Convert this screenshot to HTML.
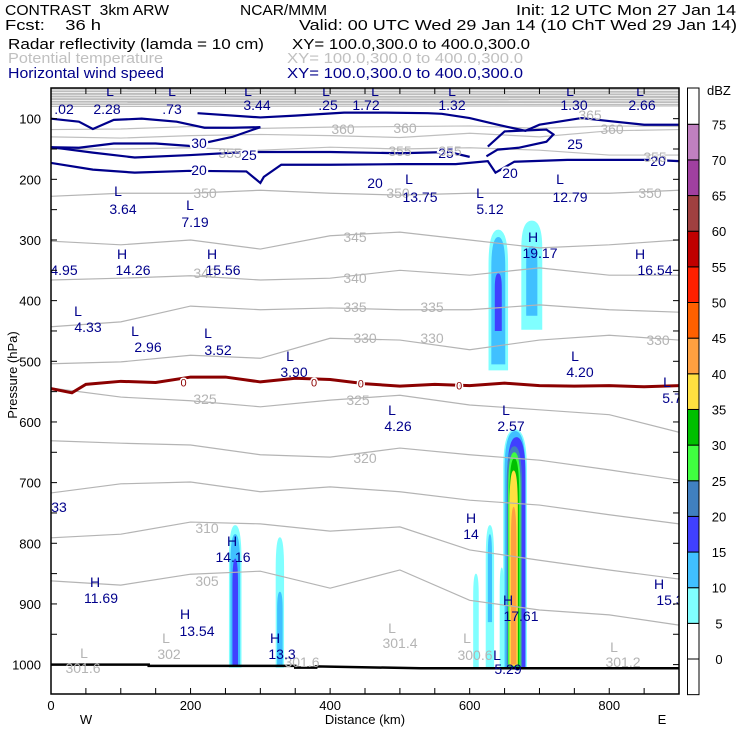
<!DOCTYPE html>
<html><head><meta charset="utf-8"><style>
html,body{margin:0;padding:0;background:#fff;}
svg{display:block;font-family:"Liberation Sans",sans-serif;}
#hdr text{white-space:pre;}
</style></head><body>
<svg id="chart" width="740" height="740" viewBox="0 0 740 740" xmlns="http://www.w3.org/2000/svg">
<defs><clipPath id="plotclip"><rect x="51" y="88" width="628" height="606"/></clipPath></defs>
<g id="hdr" font-size="14.5" xml:space="preserve">
<text x="5" y="15" textLength="164" lengthAdjust="spacingAndGlyphs">CONTRAST  3km ARW</text>
<text x="240" y="15" textLength="87" lengthAdjust="spacingAndGlyphs">NCAR/MMM</text>
<text x="516" y="15" textLength="220" lengthAdjust="spacingAndGlyphs">Init: 12 UTC Mon 27 Jan 14</text>
<text x="5" y="30" textLength="96" lengthAdjust="spacingAndGlyphs">Fcst:    36 h</text>
<text x="299" y="30" textLength="438" lengthAdjust="spacingAndGlyphs">Valid: 00 UTC Wed 29 Jan 14 (10 ChT Wed 29 Jan 14)</text>
<text x="8" y="49" textLength="256" lengthAdjust="spacingAndGlyphs">Radar reflectivity (lamda = 10 cm)</text>
<text x="292" y="49" textLength="238" lengthAdjust="spacingAndGlyphs">XY= 100.0,300.0 to 400.0,300.0</text>
<text x="8" y="63" fill="#c0c0c0" textLength="155" lengthAdjust="spacingAndGlyphs">Potential temperature</text>
<text x="287" y="63" fill="#c0c0c0" textLength="236" lengthAdjust="spacingAndGlyphs">XY= 100.0,300.0 to 400.0,300.0</text>
<text x="8" y="78" fill="#00008b" textLength="156" lengthAdjust="spacingAndGlyphs">Horizontal wind speed</text>
<text x="287" y="78" fill="#00008b" textLength="236" lengthAdjust="spacingAndGlyphs">XY= 100.0,300.0 to 400.0,300.0</text>
</g>
<g id="plot" clip-path="url(#plotclip)"></g>
<g id="axes"></g>
<g id="cbar"></g>
</svg>
<script>
// ---- data ----
const thetaLevels = [350,345,340,335,330,325,320,315,310,305];
const thetaDist = [0,100,200,300,400,500,600,700,800,900];
const thetaP = [
 [228,223,223,218,223,226,223,223,223,218],
 [302,308,300,315,293,287,300,313,308,300],
 [366,363,359,366,363,350,358,346,358,358],
 [443,435,409,415,412,415,415,407,415,419],
 [504,501,490,495,462,465,481,465,457,465],
 [544,559,565,575,564,556,572,580,588,617],
 [631,635,638,654,658,643,654,663,679,696],
 [717,702,699,715,707,715,729,737,753,768],
 [791,785,765,768,780,773,811,828,844,859],
 [862,869,851,846,874,844,894,910,918,935]
];
const freezeDist = [0,30,50,100,150,200,250,300,350,400,450,500,550,600,650,700,750,800,850,900];
const freezeP = [545,552,538,533,535,526,526,534,528,530,537,541,538,540,536,540,541,540,542,540];
const wind20Dist = [0,60,120,200,280,300,305,330,400,500,580,626,637,664,740,860,900];
const wind20P = [173,184,189,186,187,206,196,176,176,175,175,170,189,171,168,168,170];
const wind25Dist = [0,60,120,200,280,400,500,570,600];
const wind25P = [147,156,164,160,155,155,157,155,163];
const wind25bDist = [624,640,670,710,720,710,650,626];
const wind25bP = [162,151,148,138,126,118,121,146];
const wind30Dist = [0,40,60,90,130,180,220,260,300,260,200,150,90,40,0];
const wind30P = [100,105,117,102,100,105,115,115,114,130,145,141,141,148,147];
const wind30bDist = [210,300,350,420,480,540,560,600,640,680,700,760,800,850,900];
const wind30bP = [91,98,95,90,90,91,92,99,110,120,110,99,104,110,110];
const cellDist  = [665,665,667,664,664,664,663,663, 264,264,264, 328,328, 641,641,641, 689,689, 629,629, 609, 646];
const cellPTop  = [612,615,625,640,650,660,680,740, 770,785,825, 790,880, 283,295,355, 268,310, 770,785, 850, 840];
const cellPBot  = [1005,1005,1005,1005,1003,1003,1002,1000, 1005,1004,1002, 1005,1004, 515,505,450, 448,425, 1005,930, 1005, 1005];
const cellHalf  = [17,15,13,11,9,7,6,4, 9,7,4, 6,4, 14,10,5, 15,8, 6,3, 4, 3];
const cellLevel = [5,10,15,20,25,30,35,40, 5,10,15, 5,10, 5,10,15, 5,10, 5,10, 5, 5];
const cbarLevels = [-5,0,5,10,15,20,25,30,35,40,45,50,55,60,65,70,75];
const cbarColors = ["#ffffff","#ffffff","#80ffff","#40c0ff","#4040ff","#4080c0","#40ff40","#00c000","#ffe040","#ffa040","#ff6000","#ff2000","#c00000","#a04040","#a040a0","#c080c0","#ffffff"];
const cbarLabels = [0,5,10,15,20,25,30,35,40,45,50,55,60,65,70,75];
const xTickLabels = [0,200,400,600,800];
const yTickLabels = [100,200,300,400,500,600,700,800,900,1000];
const surfaceDist = [0,140,140,330,350,350,380,380,530,900];
const surfaceP = [1000,1000,1002,1002,1002,1005,1005,1003,1006,1006];
const navyLabels = [["L",110,96],["L",172,96],["L",248,96],["L",326,96],["L",375,96],["L",452,96],["L",570,96],["L",640,96],
[".02",64,114],["2.28",107,114],[".73",172,114],["3.44",257,110],[".25",328,110],["1.72",366,110],["1.32",452,110],["1.30",574,110],["2.66",642,110],
["L",118,196],["3.64",123,214],["L",190,210],["7.19",195,227],["L",409,184],["13.75",420,202],["L",480,198],["5.12",490,214],["L",560,184],["12.79",570,202],
["H",533,242],["19.17",540,258],["H",122,259],["14.26",133,275],["H",212,259],["15.56",223,275],["4.95",64,275],["H",640,259],["16.54",655,275],
["L",78,316],["4.33",88,332],["L",135,336],["2.96",148,352],["L",208,338],["3.52",218,355],["L",290,361],["3.90",294,377],["L",575,361],["4.20",580,377],
["L",667,387],["5.7",672,403],["L",392,415],["4.26",398,431],["L",506,415],["2.57",511,431],["33",59,512],["H",471,523],["14",471,539],
["H",232,546],["14.16",233,562],["H",95,587],["11.69",101,603],["H",659,589],["15.3",670,605],["H",185,619],["13.54",197,636],
["H",508,605],["17.61",521,621],["H",275,643],["13.3",282,659],["L",497,660],["5.29",508,674]];
const grayLabels = [["L",84,658],["301.6",83,673],["L",166,643],["302",169,659],["L",392,633],["301.4",400,648],["L",467,643],["300.6",475,660],["L",614,652],["301.2",623,667],["301.6",302,667],
["360",343,134],["360",405,133],["360",612,134],["365",590,120],["355",230,158],["355",400,156],["355",450,156],["355",655,162],["350",205,198],["350",398,198],["350",650,198],
["345",355,242],["340",355,283],["340",205,278],["335",355,312],["335",432,312],["330",365,343],["330",432,343],["330",658,345],["325",205,404],["325",358,405],["320",365,463],["310",207,533],["305",207,586]];

// ---- scales ----
const X = d => 51 + d * 0.6978;
const Y = p => 58 + p * 0.6066;
const NS = "http://www.w3.org/2000/svg";
function mk(tag, parent, attrs){const e=document.createElementNS(NS,tag);for(const k in attrs)e.setAttribute(k,attrs[k]);parent.appendChild(e);return e;}
const plot = document.getElementById('plot');
const axes = document.getElementById('axes');
const cbar = document.getElementById('cbar');
function colorOf(l){return cbarColors[cbarLevels.indexOf(l)];}

let bg = mk('rect', plot, {x:51,y:88,width:628,height:19,fill:'#bdbdbd'});


for(let i=0;i<7;i++){
  let ln = mk('path', plot, {d:`M51 ${90+i*2.6} L679 ${90.5+i*2.6}`, stroke:'#fff','stroke-width':0.7, fill:'none'});
  
  
}
const upperDist=[0,100,200,300,400,500,600,700,800,900];
const upperP=[[118,117,113,116,114,113,112,116,112,113],[130,132,128,126,128,131,124,130,120,118],[150,150,148,152,147,150,148,152,160,160]];
upperP.forEach(arr=>{
  let pth = mk('path', plot, {d:'M'+upperDist.map((d,i)=>X(d)+' '+Y(arr[i])).join(' L'), stroke:'#bfbfbf', fill:'none','stroke-width':1.2});
  
  
});

cellDist.forEach((d,i)=>{
  const xl=X(d-cellHalf[i]), xr=X(d+cellHalf[i]), xc=X(d);
  const yt=Y(cellPTop[i]), yb=Y(cellPBot[i]);
  const ym = yt + Math.min(0.25*(yb-yt), 40);
  const path = `M${xl} ${yb} L${xl} ${ym} Q${xl} ${yt} ${xc} ${yt} Q${xr} ${yt} ${xr} ${ym} L${xr} ${yb} Z`;
  let c = mk('path', plot, {d:path, fill:colorOf(cellLevel[i])});
  
  
});

thetaLevels.forEach((lv,j)=>{
  let pth = mk('path', plot, {d:'M'+thetaDist.map((d,i)=>X(d)+' '+Y(thetaP[j][i])).join(' L'), stroke:'#b4b4b4', fill:'none','stroke-width':1.2});
  
  
});

let fz = mk('path', plot, {d:'M'+freezeDist.map((d,i)=>X(d)+' '+Y(freezeP[i])).join(' L'), stroke:'#8b0000', fill:'none','stroke-width':3});


[[190,535],[377,535],[444,537],[585,540]].forEach(q=>{
  let t = mk('text', plot, {x:X(q[0]), y:Y(q[1])+4, fill:'#8b0000','font-size':11,'text-anchor':'middle',stroke:'#fff','stroke-width':3,'paint-order':'stroke'});
  t.textContent='0';
  
  
});

[[wind20Dist,wind20P,'wind-20'],[wind25Dist,wind25P,'wind-25'],[wind25bDist,wind25bP,'wind-25-loop'],[wind30Dist,wind30P,'wind-30'],[wind30bDist,wind30bP,'wind-30-upper']].forEach(w=>{
  let pth = mk('path', plot, {d:'M'+w[0].map((d,i)=>X(d)+' '+Y(w[1][i])).join(' L'), stroke:'#00008b', fill:'none','stroke-width':2.2});
  
  
});
[["20",199,170],["20",375,183],["20",510,173],["20",658,161],["25",249,155],["25",446,153],["25",575,144],["30",199,143]].forEach(q=>{
  let t = mk('text', plot, {x:q[1], y:q[2]+5, fill:'#00008b','font-size':14,'text-anchor':'middle',stroke:'#fff','stroke-width':4,'paint-order':'stroke'});
  t.textContent=q[0];
  
  
});

let sf = mk('path', plot, {d:'M'+surfaceDist.map((d,i)=>X(d)+' '+Y(surfaceP[i])).join(' L'), stroke:'#000', fill:'none','stroke-width':2.5});



grayLabels.forEach(q=>{
  let t = mk('text', plot, {x:q[1], y:q[2], fill:'#b4b4b4','font-size':14,'text-anchor':'middle'});
  t.textContent=q[0];
  
  
});
navyLabels.forEach(q=>{
  let t = mk('text', plot, {x:q[1], y:q[2], fill:'#00008b','font-size':14,'text-anchor':'middle'});
  t.textContent=q[0];
  
  
});

let fr = mk('rect', axes, {x:51,y:88,width:628,height:606,fill:'none',stroke:'#000','stroke-width':1.5});


for(let d=0; d<=900; d+=50){
  let tk = mk('line', axes, {x1:X(d),x2:X(d),y1:694,y2:688,stroke:'#000'});
  
  
  let tk2 = mk('line', axes, {x1:X(d),x2:X(d),y1:88,y2:94,stroke:'#000'});
  
  
}
xTickLabels.forEach(v=>{
  let t = mk('text', axes, {x:X(v), y:710,'font-size':13,'text-anchor':'middle'});
  t.textContent=v;
  
  
});
for(let p=100; p<=1000; p+=50){
  let tk = mk('line', axes, {x1:51,x2:57,y1:Y(p),y2:Y(p),stroke:'#000'});
  
  
  let tk2 = mk('line', axes, {x1:679,x2:673,y1:Y(p),y2:Y(p),stroke:'#000'});
  
  
}
yTickLabels.forEach(v=>{
  let t = mk('text', axes, {x:41, y:Y(v)+5,'font-size':13,'text-anchor':'end'});
  t.textContent=v;
  
  
});
let xt = mk('text', axes, {x:365,y:724,'font-size':13,'text-anchor':'middle'}); xt.textContent='Distance (km)';


let wl = mk('text', axes, {x:86,y:724,'font-size':13,'text-anchor':'middle'}); wl.textContent='W';


let el2 = mk('text', axes, {x:662,y:724,'font-size':13,'text-anchor':'middle'}); el2.textContent='E';


let yt = mk('text', axes, {x:0,y:0,'font-size':13,'text-anchor':'middle',transform:'translate(17,375) rotate(-90)'}); yt.textContent='Pressure (hPa)';



const CB = v => 659 - (v) * 7.13;
for(let i=0;i<cbarColors.length;i++){
  const lo = cbarLevels[i], hi = lo+5;
  const y1 = i===cbarColors.length-1 ? 88 : CB(hi);
  let r = mk('rect', cbar, {x:687.5,y:y1,width:11.5,height:CB(lo)-y1,fill:cbarColors[i],stroke:'#000','stroke-width':1});
  
  
}
cbarLabels.forEach(v=>{
  let t = mk('text', cbar, {x:719,y:CB(v)+5,'font-size':13,'text-anchor':'middle'});
  t.textContent=v;
  
  
});
let ut = mk('text', cbar, {x:707,y:95,'font-size':13}); ut.textContent='dBZ';


</script>
</body></html>
